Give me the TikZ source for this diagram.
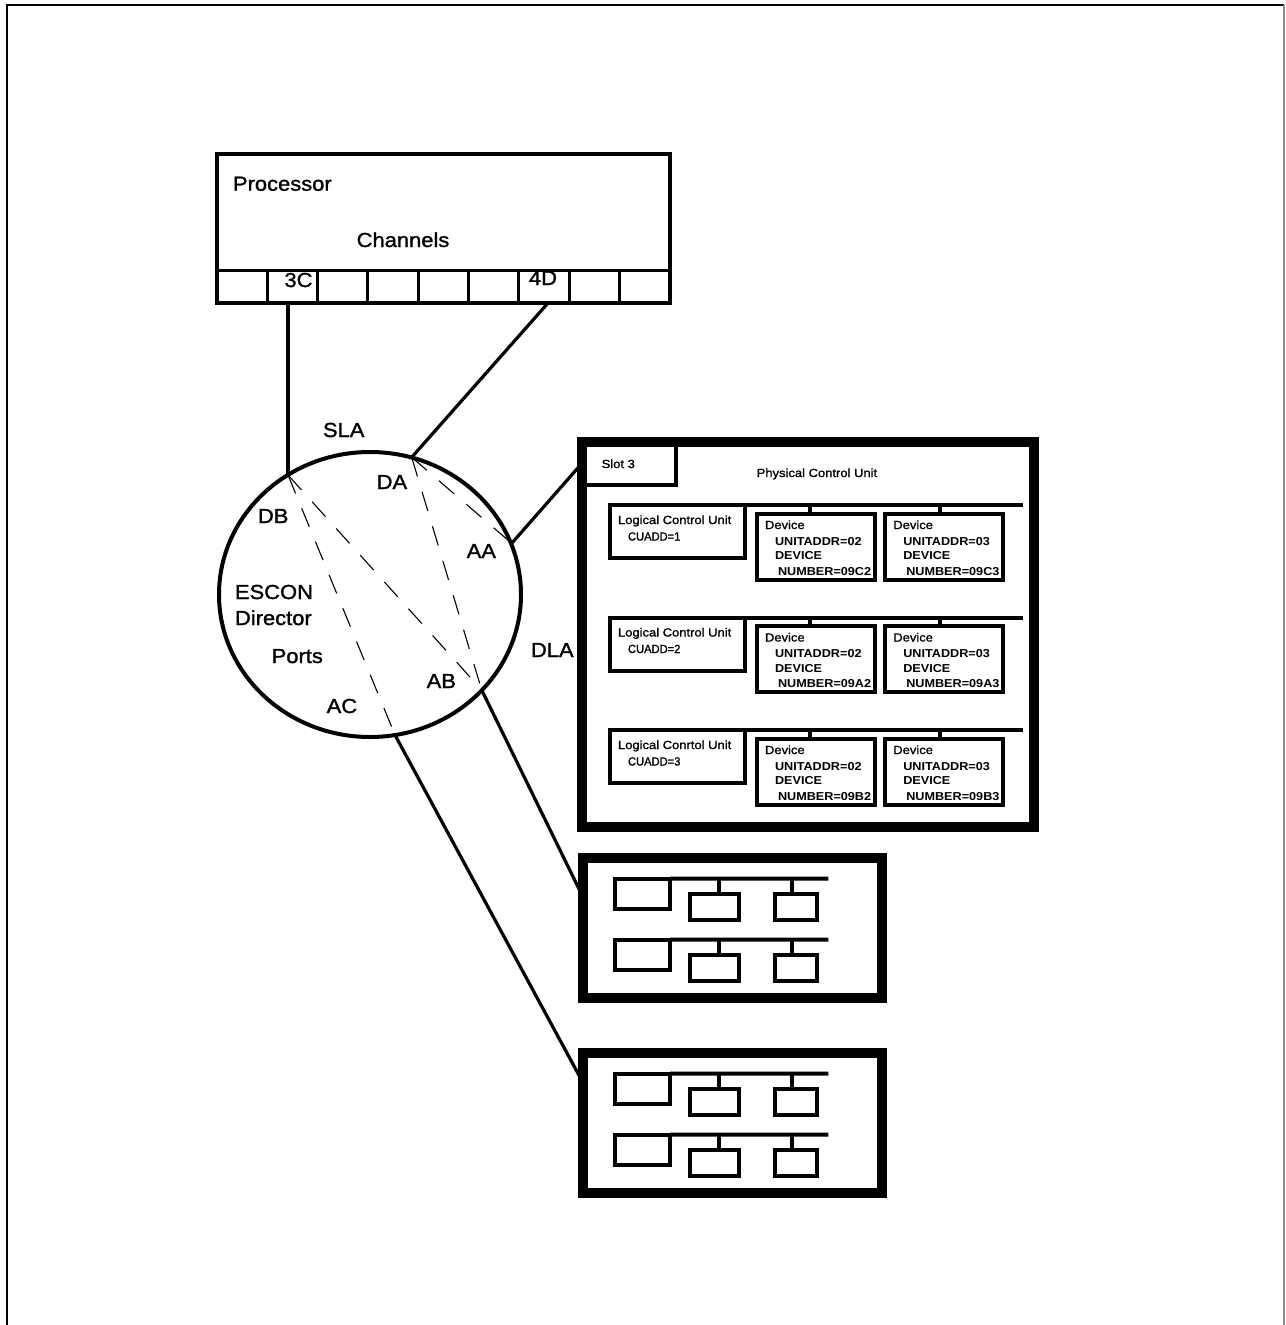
\documentclass[tikz,border=0pt]{standalone}
\usepackage{fontspec}
\usepackage{graphicx}
\setmainfont{Liberation Sans}[FakeStretch=1.1]
\newfontfamily\heavyfam{Liberation Sans}[FakeStretch=1.08, FakeBold=1.3]
\newfontfamily\medfam{Liberation Sans}[FakeStretch=1.1, FakeBold=1.2]
\usetikzlibrary{shapes.geometric}
\newcommand\bigf{\heavyfam\fontsize{20.3}{24}\selectfont}
\newcommand\smallf{\medfam\fontsize{11.8}{14}\selectfont}
\newcommand\devf{\fontsize{11.5}{14}\selectfont\bfseries}
\tikzset{
  lbl/.style={anchor=base west, inner sep=0pt, outer sep=0pt, font=\bigf},
  slbl/.style={anchor=base west, inner sep=0pt, outer sep=0pt, font=\smallf},
  dlbl/.style={anchor=base west, inner sep=0pt, outer sep=0pt, font=\devf},
  bx/.style={draw, rectangle, inner sep=0pt, outer sep=0pt, line width=4pt},
  cell/.style={draw, rectangle, inner sep=0pt, outer sep=0pt, line width=3pt},
  frm/.style={draw, rectangle, inner sep=0pt, outer sep=0pt, line width=10pt},
  conn/.style={line width=3.2pt},
  plink/.style={line width=1.1pt, dash pattern=on 20pt off 16pt},
  busline/.style={line width=4pt}
}
\begin{document}
\begin{tikzpicture}[x=1pt,y=-1pt]
\useasboundingbox (0,0) rectangle (1285,1325);
\fill[white] (0,0) rectangle (1285,1325);
% page frame
\draw[line width=2pt] (6.8,1325) -- (6.8,5) -- (1284,5);
\draw[line width=1.7pt, black!45] (1284,5) -- (1284,1325);

% processor
\node[bx, minimum width=453pt, minimum height=149.5pt] (proc) at (443.5,228.25) {};
\foreach \i in {1,...,9} {
  \node[cell, minimum width=50.33pt, minimum height=33pt] (ch\i) at ({217+50.33*(\i-0.5)},286.5) {};
}
\node[lbl] (proclab) at (233,190.7) {Processor};
\node[lbl] (chanlab) at (356.7,247) {Channels};
\node[lbl] (lab3C) at (284.5,287) {3C};
\node[lbl] (lab4D) at (529,285) {4D};

% ESCON director
\node[draw, ellipse, line width=4pt, inner sep=0pt, outer sep=0pt,
      minimum width=302pt, minimum height=285pt] (esc) at (370,594.5) {};
\coordinate (DB) at (288,475);
\coordinate (DA) at (411.7,457.3);
\coordinate (AA) at (511.7,543.3);
\coordinate (AB) at (481.7,690);
\coordinate (AC) at (395,735);
\coordinate (c4D) at (548,303);
\coordinate (hpcu) at (580,465.5);
\coordinate (hb1) at (581,893);
\coordinate (hb2) at (581,1079);

\draw[conn] (ch2.south -| DB) -- (DB);
\draw[conn] (c4D) -- (DA);
\draw[conn] (AA) -- (hpcu);
\draw[conn] (AB) -- (hb1);
\draw[conn] (AC) -- (hb2);

\draw[plink] (DB) -- (AB);
\draw[plink] (DB) -- (AC);
\draw[plink] (DA) -- (AA);
\draw[plink] (DA) -- (AB);

\node[lbl] (sla) at (323,437) {SLA};
\node[lbl] (pDA) at (376.7,489) {DA};
\node[lbl] (pDB) at (258,523) {DB};
\node[lbl] (pAA) at (466.7,558) {AA};
\node[lbl] (escon) at (235,599) {ESCON};
\node[lbl] (director) at (235,625) {Director};
\node[lbl] (ports) at (271.7,663) {Ports};
\node[lbl] (pAB) at (426.7,688) {AB};
\node[lbl] (pAC) at (326.7,713) {AC};
\node[lbl] (dla) at (531,657) {DLA};

% physical control unit
\node[frm, minimum width=452pt, minimum height=385pt] (pcu) at (808,634.5) {};
\node[draw, rectangle, inner sep=0pt, outer sep=0pt, line width=4.5pt,
      minimum width=94pt, minimum height=43pt] (slot) at (629,463.5) {};
\node[slbl] (slotlab) at (601.7,468) {Slot 3};
\node[slbl] (pculab) at (756.7,477) {Physical Control Unit};

\foreach \r/\cu/\lab/\na/\nb in {0/1/Logical Control Unit/09C2/09C3,
                                 1/2/Logical Control Unit/09A2/09A3,
                                 2/3/Logical Conrtol Unit/09B2/09B3} {
  \pgfmathsetmacro\yb{505+112.5*\r}
  \node[bx, minimum width=135pt, minimum height=53pt] (lcu\r) at (677.5,\yb+26.5) {};
  \node[bx, minimum width=117.7pt, minimum height=66pt] (dva\r) at (815.8,\yb+41.7) {};
  \node[bx, minimum width=117.7pt, minimum height=66pt] (dvb\r) at (944.2,\yb+41.7) {};
  \coordinate (busend\r) at (1023,\yb);
  \draw[busline] (lcu\r.north east) -- (busend\r);
  \draw[busline] ([xshift=-5.8pt]dva\r.north) -- ([xshift=-5.8pt]dva\r.north |- busend\r);
  \draw[busline] ([xshift=-4.2pt]dvb\r.north) -- ([xshift=-4.2pt]dvb\r.north |- busend\r);
  \node[slbl] (lcut\r) at (618,\yb+19) {\lab};
  \node[slbl] (cuadd\r) at (628,\yb+35.5) {\scalebox{0.86}[1]{CUADD=\cu}};
  \node[slbl] (dat\r) at (765,\yb+24) {Device};
  \node[dlbl] (dau\r) at (775,\yb+40) {UNITADDR=02};
  \node[dlbl] (dad\r) at (775,\yb+54.5) {DEVICE};
  \node[dlbl] (dan\r) at (778,\yb+70) {NUMBER=\na};
  \node[slbl] (dbt\r) at (893.3,\yb+24) {Device};
  \node[dlbl] (dbu\r) at (903.3,\yb+40) {UNITADDR=03};
  \node[dlbl] (dbd\r) at (903.3,\yb+54.5) {DEVICE};
  \node[dlbl] (dbn\r) at (906.3,\yb+70) {NUMBER=\nb};
}

% other control units
\foreach \k in {0,1} {
  \pgfmathsetmacro\oy{195*\k}
  \node[frm, minimum width=298.7pt, minimum height=140pt] (sb\k) at (732.3,928+\oy) {};
  \foreach \j in {0,1} {
    \pgfmathsetmacro\oyy{\oy+61*\j}
    \node[bx, minimum width=54.6pt, minimum height=30.3pt] (cu\k\j) at (642.7,893.85+\oyy) {};
    \node[bx, minimum width=48.7pt, minimum height=26.3pt] (dx\k\j) at (714.35,906.85+\oyy) {};
    \node[bx, minimum width=42.3pt, minimum height=26.3pt] (dy\k\j) at (795.85,906.85+\oyy) {};
    \coordinate (be\k\j) at (828.3,878.7+\oyy);
    \draw[busline] (cu\k\j.north east) -- (be\k\j);
    \draw[busline] ([xshift=4.35pt]dx\k\j.north) -- ([xshift=4.35pt]dx\k\j.north |- be\k\j);
    \draw[busline] ([xshift=-3.85pt]dy\k\j.north) -- ([xshift=-3.85pt]dy\k\j.north |- be\k\j);
  }
}
\end{tikzpicture}
\end{document}
